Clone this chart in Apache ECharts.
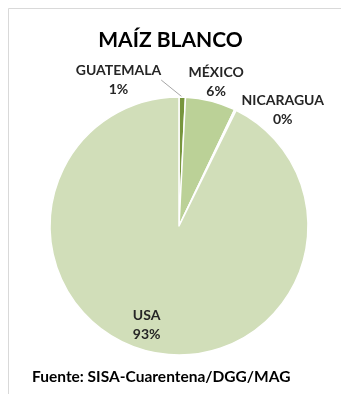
<!DOCTYPE html>
<html>
<head>
<meta charset="utf-8">
<script src="https://cdn.jsdelivr.net/npm/echarts@6/dist/echarts.min.js"></script>
<style>
  html, body { margin: 0; padding: 0; background: #fff; }
  #chart { width: 341px; height: 394px; }
</style>
</head>
<body>
<div id="chart"></div>
<script>
  // datos
  const paises = ['GUATEMALA', 'MÉXICO', 'NICARAGUA', 'USA'];
  const valores = [0.8, 6.3, 0.2, 92.7];
  const colores = ['#77953d', '#bbd197', '#d1deb9', '#d1deb9'];

  // ajustes de etiquetas (px) respecto a su posicion por defecto
  const ajustes = {
    'GUATEMALA': [-69, -7],
    'MÉXICO': [-2, -9],
    'NICARAGUA': [38, 9],
    'USA': [-17, 33]
  };

  let mychart = echarts.init(document.getElementById('chart'));
  let option = {
    backgroundColor: '#fff',
    title: {
      text: 'MAÍZ BLANCO',
      left: 'center',
      top: 25,
      textStyle: { fontSize: 21, fontWeight: 'bold', color: '#000', fontFamily: 'Lato' }
    },
    graphic: [
      {
        type: 'rect',
        shape: { x: 8.5, y: 8.5, width: 400, height: 400 },
        style: { fill: null, stroke: '#d9d9d9', lineWidth: 1 },
        silent: true
      },
      {
        type: 'text',
        left: 32,
        top: 369,
        style: {
          text: 'Fuente: SISA-Cuarentena/DGG/MAG',
          font: 'bold 15.5px Lato',
          fill: '#000'
        }
      }
    ],
    series: [{
      type: 'pie',
      center: [179, 226],
      radius: 129,
      startAngle: 90,
      clockwise: true,
      avoidLabelOverlap: false,
      itemStyle: { borderColor: '#fff', borderWidth: 1.5 },
      label: {
        show: true,
        position: 'outside',
        formatter: p => '{a|' + p.name + '}\n{a|' + Math.round(p.percent) + '%}',
        rich: {
          a: { fontSize: 14, fontWeight: 'bold', fontFamily: 'Lato', color: '#262626', lineHeight: 19, align: 'center' }
        }
      },
      labelLine: { show: true, length: 10, length2: 0, lineStyle: { color: '#a6a6a6', width: 1 } },
      labelLayout: p => {
        const a = ajustes[paises[p.dataIndex]];
        if (paises[p.dataIndex] === 'GUATEMALA') {
          // x/y para que se vuelva a trazar la linea guia
          const r = p.labelRect;
          return { x: r.x + a[0], y: r.y + r.height / 2 + a[1], align: 'center', verticalAlign: 'middle' };
        }
        return { dx: a[0], dy: a[1], align: 'center', verticalAlign: 'middle' };
      },
      data: paises.map((n, i) => {
        const d = { name: n, value: valores[i], itemStyle: { color: colores[i] } };
        if (n === 'USA') {
          d.label = { position: 'inside' };
        }
        if (n !== 'GUATEMALA') {
          d.labelLine = { show: false };
        }
        return d;
      })
    }]
  };
  mychart.setOption(option);
</script>
</body>
</html>
